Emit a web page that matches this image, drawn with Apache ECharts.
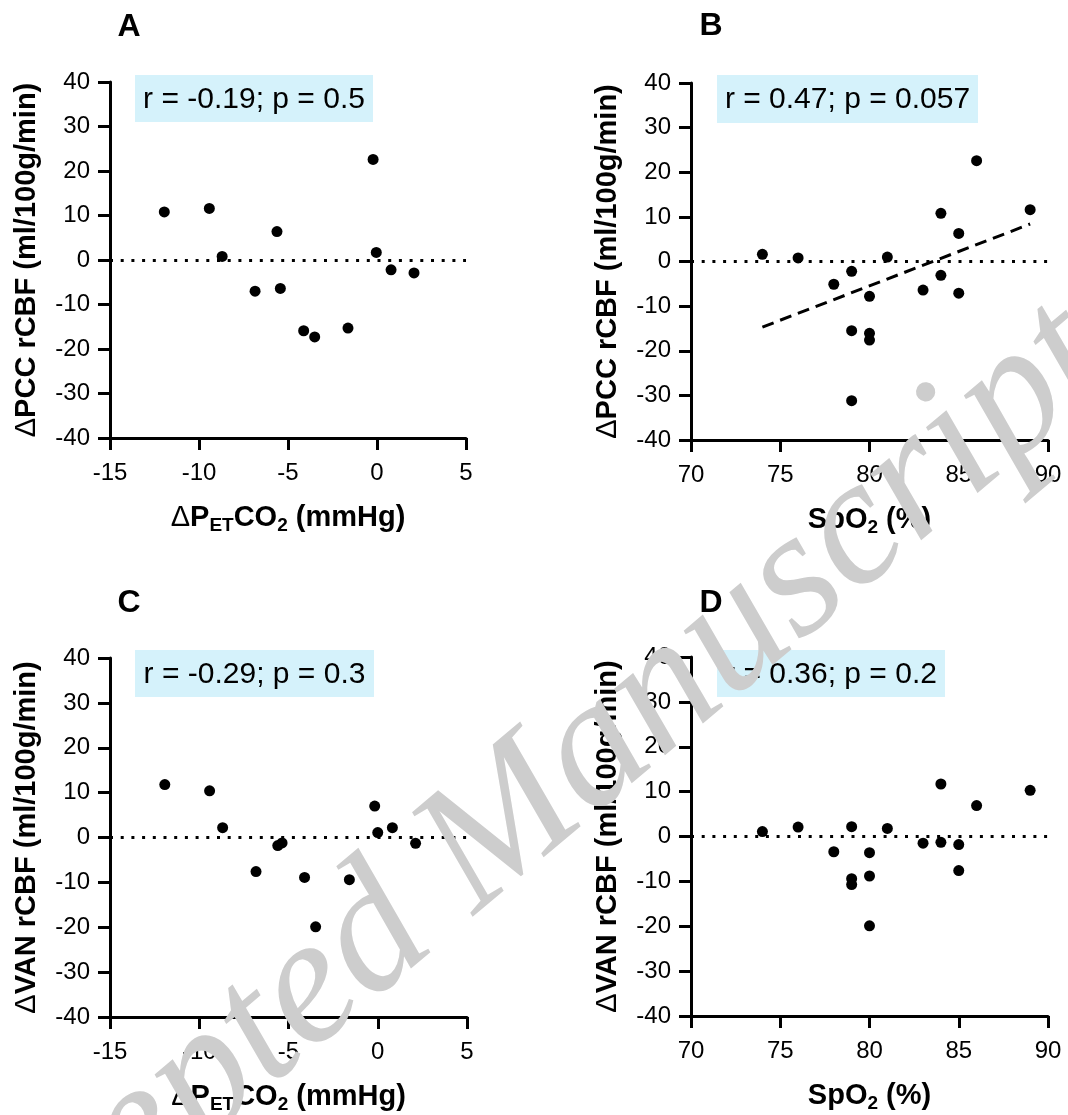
<!DOCTYPE html>
<html>
<head>
<meta charset="utf-8">
<title>rCBF vs PETCO2 / SpO2</title>
<script src="https://cdn.jsdelivr.net/npm/echarts@6/dist/echarts.min.js"></script>
<style>
  html, body { margin: 0; padding: 0; background: #fff; }
  #main { width: 1068px; height: 1115px; }
</style>
</head>
<body>
<div id="main"></div>
<script>
// tick values of the axes
const yTicks = [-40, -30, -20, -10, 0, 10, 20, 30, 40]
const petco2Ticks = [-15, -10, -5, 0, 5]
const spo2Ticks = [70, 75, 80, 85, 90]

// A: dPETCO2 vs dPCC rCBF
const petco2A = [-11.95, -9.42, -8.7, -5.62, -6.85, -5.43, -4.12, -3.5, -1.63, -0.22, -0.04, 0.79, 2.08]
const pccA = [10.8, 11.6, 0.8, 6.4, -7.0, -6.4, -15.9, -17.3, -15.3, 22.6, 1.7, -2.2, -2.9]

// B: SpO2 vs dPCC rCBF
const spo2B = [74, 76, 78, 79, 79, 79, 80, 80, 80, 81, 83, 84, 84, 85, 85, 86, 89]
const pccB = [1.6, 0.8, -5.1, -2.2, -15.5, -31.2, -7.8, -16.1, -17.6, 1.0, -6.4, 10.8, -3.1, 6.3, -7.1, 22.6, 11.6]
// regression line (B)
const fitX = [74, 89]
const fitY = [-14.7, 8.4]

// C: dPETCO2 vs dVAN rCBF
const petco2C = [-11.93, -9.42, -8.69, -6.82, -5.6, -5.36, -4.1, -3.48, -1.59, -0.17, 0.0, 0.82, 2.12]
const vanC = [11.8, 10.4, 2.2, -7.6, -1.8, -1.2, -8.9, -19.9, -9.4, 7.0, 1.1, 2.2, -1.3]

// D: SpO2 vs dVAN rCBF
const spo2D = [74, 76, 78, 79, 79, 79, 80, 80, 80, 81, 83, 84, 84, 85, 85, 86, 89]
const vanD = [1.1, 2.1, -3.4, 2.2, -9.4, -10.7, -3.6, -8.8, -19.9, 1.8, -1.5, 11.7, -1.3, -1.8, -7.6, 6.9, 10.3]

const statsText = ['r = -0.19; p = 0.5', 'r = 0.47; p = 0.057', 'r = -0.29; p = 0.3', 'r = 0.36; p = 0.2']
const panelLetters = ['A', 'B', 'C', 'D']

const FONT = '"Liberation Sans", Arial, Helvetica, sans-serif'

const chart = echarts.init(document.getElementById('main'), null, { renderer: 'canvas' })

// pixel boxes of the four plots
const grids = [
  { left: 110, top: 82, width: 356, height: 356 },
  { left: 691, top: 83, width: 357, height: 357 },
  { left: 110, top: 658, width: 357, height: 359 },
  { left: 691, top: 657, width: 357, height: 359 }
]

const petco2Name = '{d|Δ}{b|P}{s|ET}{b|CO}{s|2}{b| (mmHg)}'
const spo2Name = '{b|SpO}{s|2}{b| (%)}'
const nameRich = {
  d: { fontFamily: FONT, fontSize: 29, fontWeight: 'normal', color: '#000' },
  b: { fontFamily: FONT, fontSize: 29, fontWeight: 'bold', color: '#000' },
  s: { fontFamily: FONT, fontSize: 19, fontWeight: 'bold', color: '#000', padding: [16, 0, 0, 0] }
}

function makeXAxis(i, ticks, name) {
  return {
    type: 'value', gridIndex: i,
    min: ticks[0], max: ticks[ticks.length - 1], interval: ticks[1] - ticks[0],
    name: name, nameLocation: 'middle', nameGap: 62,
    nameTextStyle: { rich: nameRich },
    splitLine: { show: false },
    axisLine: { onZero: false, lineStyle: { color: '#000', width: 3 } },
    axisTick: { length: 12, lineStyle: { color: '#000', width: 3 } },
    axisLabel: { color: '#000', fontFamily: FONT, fontSize: 24, margin: 23 }
  }
}

function makeYAxis(i, name) {
  return {
    type: 'value', gridIndex: i,
    min: yTicks[0], max: yTicks[yTicks.length - 1], interval: yTicks[1] - yTicks[0],
    name: name, nameLocation: 'middle', nameGap: 69,
    nameTextStyle: { rich: nameRich },
    splitLine: { show: false },
    axisLine: { onZero: false, lineStyle: { color: '#000', width: 3 } },
    axisTick: { length: 12, lineStyle: { color: '#000', width: 3 } },
    axisLabel: { color: '#000', fontFamily: FONT, fontSize: 24, margin: 20 }
  }
}

function zipXY(xs, ys) {
  return xs.map((x, k) => [x, ys[k]])
}

const zeroLine = {
  silent: true, symbol: 'none', animation: false,
  label: { show: false },
  lineStyle: { color: '#000', width: 3, type: [3, 7.7] },
  data: [{ yAxis: 0 }]
}

function scatter(i, xs, ys) {
  return {
    type: 'scatter', xAxisIndex: i, yAxisIndex: i,
    data: zipXY(xs, ys),
    symbol: 'circle', symbolSize: 11,
    itemStyle: { color: '#000', opacity: 1 },
    markLine: zeroLine,
    z: 3
  }
}

// stat boxes + panel letters
const boxes = [
  { x: 135, y: 75, w: 238, h: 47 },
  { x: 717, y: 75, w: 261, h: 48 },
  { x: 135, y: 650, w: 239, h: 47 },
  { x: 717, y: 650, w: 228, h: 47 }
]
const letterPos = [[129, 27], [711, 26], [129, 603], [711, 603]]

let graphics = []
boxes.forEach((b, i) => {
  graphics.push({
    type: 'group', x: b.x, y: b.y, z: 5,
    children: [
      { type: 'rect', shape: { x: 0, y: 0, width: b.w, height: b.h }, style: { fill: '#d5f2fb' } },
      { type: 'text', x: b.w / 2, y: b.h / 2 + 1,
        style: { text: statsText[i], font: '30px ' + FONT, fill: '#000', align: 'center', verticalAlign: 'middle' } }
    ]
  })
  graphics.push({
    type: 'text', x: letterPos[i][0], y: letterPos[i][1], z: 5,
    style: { text: panelLetters[i], font: 'bold 32px ' + FONT, fill: '#000', align: 'center', verticalAlign: 'middle' }
  })
})
// watermark
graphics.push({
  type: 'text', x: 492, y: 838, rotation: 40 * Math.PI / 180, z: 50,
  style: { text: 'Accepted Manuscript', font: 'italic 182px "Liberation Serif", "Times New Roman", serif',
    fill: '#cdcdcd', align: 'center', verticalAlign: 'middle' }
})

const option = {
  animation: false,
  backgroundColor: '#fff',
  grid: grids.map(g => Object.assign({ containLabel: false }, g)),
  xAxis: [
    makeXAxis(0, petco2Ticks, petco2Name),
    makeXAxis(1, spo2Ticks, spo2Name),
    makeXAxis(2, petco2Ticks, petco2Name),
    makeXAxis(3, spo2Ticks, spo2Name)
  ],
  yAxis: [
    makeYAxis(0, '{d|Δ}{b|PCC rCBF (ml/100g/min)}'),
    makeYAxis(1, '{d|Δ}{b|PCC rCBF (ml/100g/min)}'),
    makeYAxis(2, '{d|Δ}{b|VAN rCBF (ml/100g/min)}'),
    makeYAxis(3, '{d|Δ}{b|VAN rCBF (ml/100g/min)}')
  ],
  series: [
    scatter(0, petco2A, pccA),
    scatter(1, spo2B, pccB),
    {
      type: 'line', xAxisIndex: 1, yAxisIndex: 1,
      data: zipXY(fitX, fitY),
      symbol: 'none', silent: true,
      lineStyle: { color: '#000', width: 3, type: [12, 7] },
      z: 2
    },
    scatter(2, petco2C, vanC),
    scatter(3, spo2D, vanD)
  ],
  graphic: graphics
}

chart.setOption(option)
</script>
</body>
</html>
